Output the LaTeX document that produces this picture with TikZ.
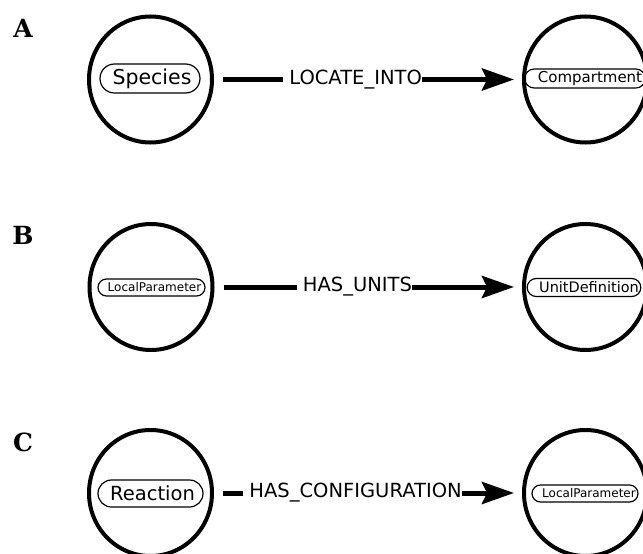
\documentclass[tikz,border=0pt]{standalone}
\usepackage{fontspec}
\newfontfamily\dejavu{DejaVu Sans}
\newfontfamily\dejavuserif{DejaVu Serif}
\usetikzlibrary{arrows.meta,shapes.geometric,shapes.misc}
\begin{document}
\begin{tikzpicture}[x=1pt,y=-1pt,
  entity/.style={draw, ellipse, line width=4pt, minimum width=123pt, minimum height=126pt, inner sep=0pt},
  pill/.style={draw, rounded rectangle, line width=1.2pt, inner sep=0pt},
  relation/.style={line width=5pt, -{Stealth[length=32pt,width=22pt,inset=5pt]}, shorten <=9pt, shorten >=8pt},
  lab/.style={fill=white, inner xsep=0pt, inner ysep=3pt, font=\dejavu\fontsize{19.5}{20}\selectfont},
  panel/.style={font=\dejavuserif\bfseries\fontsize{25}{28}\selectfont, inner sep=0pt}
]
\useasboundingbox (0,0) rectangle (643,554);

% Panel labels
\node[panel] (la) at (23,28) {A};
\node[panel] (lb) at (23,235) {B};
\node[panel] (lc) at (23,442) {C};

% Panel A
\node[entity] (sp) at (150.5,79.5) {};
\node[entity] (co) at (585.5,79.5) {};
\node[pill, minimum width=100pt, minimum height=29pt, font=\dejavu\fontsize{20.5}{21}\selectfont] (psp) at (150,78.5) {\hspace*{4pt}Species};
\node[pill, minimum width=106pt, minimum height=19pt, font=\dejavu\fontsize{15}{16}\selectfont] (pco) at (585,78.5) {\hspace*{10pt}Compartment};
\draw[relation] (sp) -- node[lab, pos=0.45] {\hspace*{6pt}LOCATE\_INTO} (co);

% Panel B
\node[entity] (lp) at (151,287) {};
\node[entity] (ud) at (585.5,287) {};
\node[pill, minimum width=107pt, minimum height=17pt, font=\dejavu\fontsize{12}{13}\selectfont] (plp) at (151.5,287.5) {\hspace*{6pt}LocalParameter};
\node[pill, minimum width=108pt, minimum height=18pt, font=\dejavu\fontsize{14.5}{15}\selectfont] (pud) at (584,287.5) {\hspace*{10pt}UnitDefinition};
\draw[relation] (lp) -- node[lab, pos=0.455] {\hspace*{6pt}HAS\_UNITS} (ud);

% Panel C
\node[entity] (re) at (150.5,493) {};
\node[entity] (lq) at (585.5,493) {};
\node[pill, minimum width=105pt, minimum height=27pt, font=\dejavu\fontsize{19.5}{20}\selectfont] (pre) at (150.5,493.5) {\hspace*{4pt}Reaction};
\node[pill, minimum width=106pt, minimum height=17pt, font=\dejavu\fontsize{12}{13}\selectfont] (plq) at (585,493.5) {\hspace*{8pt}LocalParameter};
\draw[relation] (re) -- node[lab, pos=0.45] {\hspace*{6pt}HAS\_CONFIGURATION} (lq);
\end{tikzpicture}
\end{document}
